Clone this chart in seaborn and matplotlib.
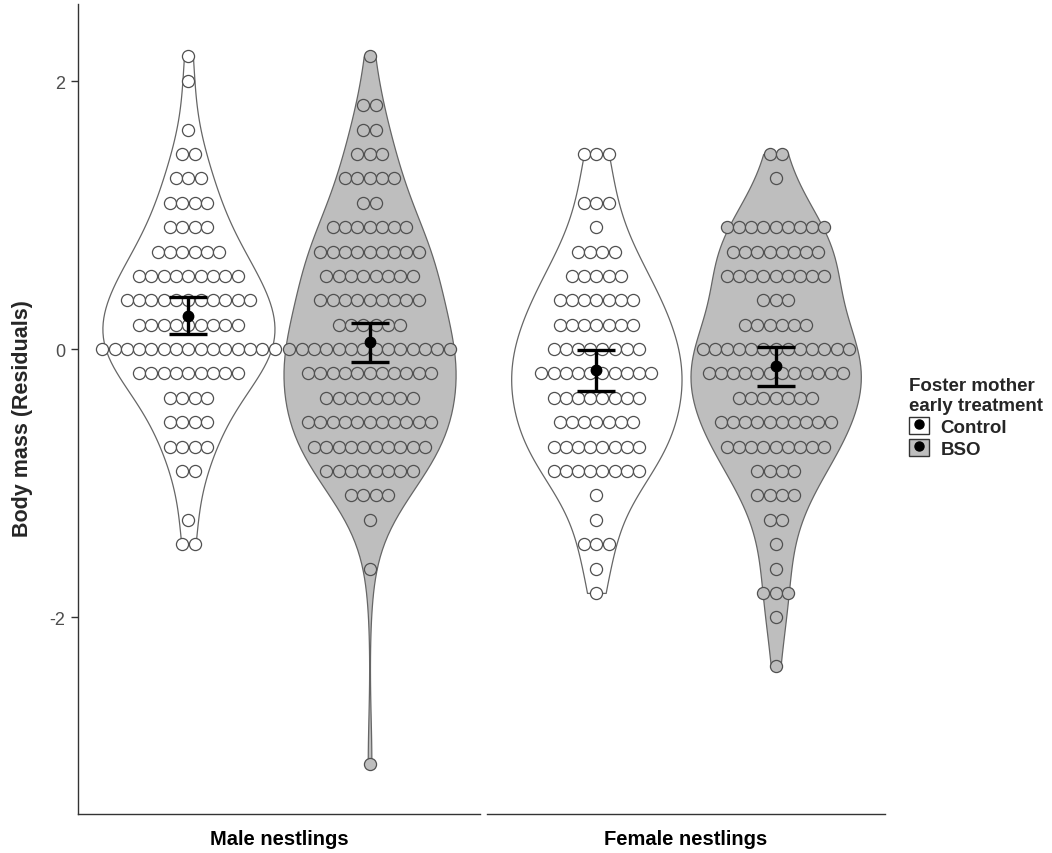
import numpy as np
import pandas as pd
import matplotlib
matplotlib.use("Agg")
import matplotlib.pyplot as plt
from matplotlib.patches import Patch
from matplotlib.lines import Line2D
from matplotlib.legend_handler import HandlerTuple
import seaborn as sns

# ---------------- data (binned dot counts, bin index k -> value k*BIN) ----------------
BIN = 0.182
panels = ["Male nestlings", "Female nestlings"]
treatments = ["Control", "BSO"]

male_control_bins = [12, 11, 9, 8, 7, 6, 5, 4, 3, 2, 1, 0, -1, -2, -3, -4, -5, -7, -8]
male_control_counts = [1, 1, 1, 2, 3, 4, 4, 6, 9, 11, 9, 15, 9, 4, 4, 4, 2, 1, 2]

male_bso_bins = [12, 10, 9, 8, 7, 6, 5, 4, 3, 2, 1, 0, -1, -2, -3, -4, -5, -6, -7, -9, -17]
male_bso_counts = [1, 2, 2, 3, 5, 2, 7, 9, 8, 9, 6, 14, 11, 8, 11, 10, 8, 4, 1, 1, 1]

female_control_bins = [8, 6, 5, 4, 3, 2, 1, 0, -1, -2, -3, -4, -5, -6, -7, -8, -9, -10]
female_control_counts = [3, 3, 1, 4, 5, 7, 7, 8, 10, 8, 7, 8, 8, 1, 1, 3, 1, 1]

female_bso_bins = [8, 7, 5, 4, 3, 2, 1, 0, -1, -2, -3, -4, -5, -6, -7, -8, -9, -10, -11, -13]
female_bso_counts = [2, 1, 9, 8, 9, 3, 6, 13, 12, 7, 10, 9, 4, 4, 2, 1, 1, 3, 1, 1]

# means and standard errors
male_means = [0.25, 0.05]
male_se = [0.14, 0.145]
female_means = [-0.16, -0.13]
female_se = [0.15, 0.145]

bins = {("Male nestlings", "Control"): (male_control_bins, male_control_counts),
        ("Male nestlings", "BSO"): (male_bso_bins, male_bso_counts),
        ("Female nestlings", "Control"): (female_control_bins, female_control_counts),
        ("Female nestlings", "BSO"): (female_bso_bins, female_bso_counts)}
means = {"Male nestlings": male_means, "Female nestlings": female_means}
ses = {"Male nestlings": male_se, "Female nestlings": female_se}

rows = []
for (pan, tr), (bk, cnt) in bins.items():
    for k, c in zip(bk, cnt):
        for _ in range(c):
            rows.append((pan, tr, k * BIN))
df = pd.DataFrame(rows, columns=["sex", "treat", "mass"])

# ---------------- style ----------------
sns.set_theme(style="white")
plt.rcParams["font.family"] = ["Liberation Sans", "DejaVu Sans"]

fills = {"Control": "#FFFFFF", "BSO": "#BEBEBE"}
dot_edge = "#505050"
dot_step = 0.068  # horizontal spacing of stacked dots (data units)

fig = plt.figure(figsize=(10.52, 8.54), dpi=100)
ax1 = fig.add_axes([0.0741, 0.0457, 0.3822, 0.9484])
ax2 = fig.add_axes([0.4629, 0.0457, 0.3784, 0.9484], sharey=ax1)

for ax, pan in zip([ax1, ax2], panels):
    sub = df[df["sex"] == pan]
    sns.violinplot(data=sub, x="treat", y="mass", hue="treat", order=treatments,
                   hue_order=treatments, palette=fills, legend=False, inner=None,
                   cut=0, width=0.95, density_norm="width", bw_adjust=1.1,
                   linecolor="#666666", linewidth=0.9, saturation=1, ax=ax)
    # stacked dots (centered dotplot)
    for i, tr in enumerate(treatments):
        bk, cnt = bins[(pan, tr)]
        xs, ys = [], []
        for k, c in zip(bk, cnt):
            for j in range(c):
                xs.append(i + (j - (c - 1) / 2) * dot_step)
                ys.append(k * BIN)
        ax.scatter(xs, ys, s=76, facecolor=fills[tr], edgecolor=dot_edge,
                   linewidth=0.9, zorder=3)
    # mean +/- SE
    ax.errorbar([0, 1], means[pan], yerr=ses[pan], fmt="o", color="black",
                markersize=7.5, capsize=13.5, capthick=2.4, elinewidth=2.4, zorder=5)
    ax.set_xlim(-0.61, 1.61)
    ax.set_xticks([])
    ax.set_xlabel(pan, fontsize=14.5, fontweight="bold", labelpad=11, color="black")
    ax.set_ylabel("")
    for s in ["top", "right"]:
        ax.spines[s].set_visible(False)
    ax.spines["bottom"].set_color("#333333")
    ax.spines["bottom"].set_linewidth(1.0)

ax1.set_ylim(-3.47, 2.575)
ax1.set_yticks([-2, 0, 2])
ax1.set_yticklabels(["-2", "0", "2"])
ax1.tick_params(axis="y", left=True, length=5, width=1, color="#333333",
                labelsize=13, labelcolor="#4D4D4D", pad=4)
ax1.spines["left"].set_color("#333333")
ax1.spines["left"].set_linewidth(1.0)
ax1.set_ylabel("Body mass (Residuals)", fontsize=15.5, fontweight="bold")
ax1.yaxis.set_label_coords(-0.112, 0.49)
ax2.spines["left"].set_visible(False)
ax2.tick_params(axis="y", left=False, labelleft=False)

# legend
handles = [(Patch(facecolor=fills[t], edgecolor="#333333", linewidth=1.0),
            Line2D([], [], marker="o", color="black", linestyle="None", markersize=6.5))
           for t in treatments]
leg = fig.legend(handles, treatments, handler_map={tuple: HandlerTuple(ndivide=1, pad=0)},
                 loc="upper left", bbox_to_anchor=(0.852, 0.5725), frameon=False,
                 title="Foster mother\nearly treatment",
                 title_fontproperties={"weight": "bold", "size": 13.5},
                 prop={"weight": "bold", "size": 13.5}, handlelength=1.07,
                 handleheight=1.0, handletextpad=0.6, labelspacing=0.17,
                 borderpad=0.2)
leg._legend_box.align = "left"

fig.savefig("out.png", dpi=100)
